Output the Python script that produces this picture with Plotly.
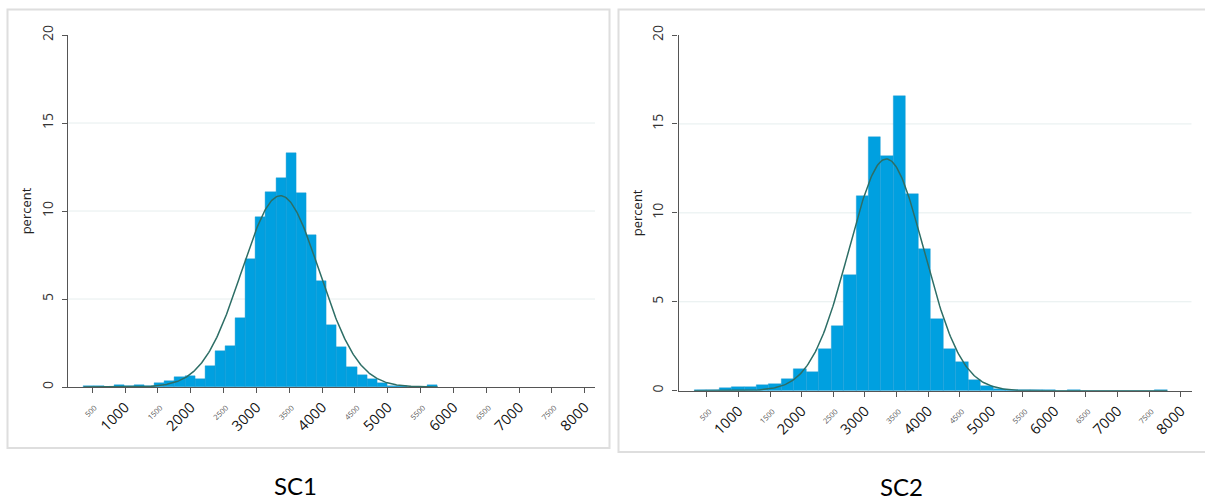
import numpy as np
import plotly.graph_objects as go

# ---------------- data ----------------
# SC1 histogram (percent per bin)
sc1_bin_start = 370
sc1_bin_width = 154
sc1_percent = [0.06, 0.06, 0.02, 0.13, 0.03, 0.13, 0.06, 0.25, 0.34, 0.59,
               0.63, 0.47, 1.19, 2.03, 2.35, 3.9, 7.3, 9.65, 11.1, 11.85,
               13.27, 11.05, 8.65, 6.05, 3.5, 2.25, 1.15, 0.7, 0.45, 0.2,
               0.08, 0.03, 0.02, 0.0, 0.1]
sc1_mean, sc1_sd, sc1_peak = 3365, 590, 10.87

# SC2 histogram (percent per bin)
sc2_bin_start = 300
sc2_bin_width = 197
sc2_percent = [0.04, 0.04, 0.13, 0.2, 0.2, 0.3, 0.36, 0.67, 1.2, 1.07,
               2.37, 3.64, 6.49, 10.95, 14.26, 13.2, 16.59, 11.06, 7.97, 4.01,
               2.34, 1.62, 0.6, 0.27, 0.09, 0.06, 0.03, 0.03, 0.03, 0.0,
               0.05, 0.0, 0.0, 0.0, 0.0, 0.0, 0.0, 0.05]
sc2_mean, sc2_sd, sc2_peak = 3340, 595, 13.03

x_tick_values = list(range(500, 8001, 500))
x_major_labels = ["1000", "2000", "3000", "4000", "5000", "6000", "7000", "8000"]
y_tick_values = [0, 5, 10, 15, 20]
grid_values = [5, 10, 15]
panel_titles = ["SC1", "SC2"]
y_title = "percent"

# ---------------- styling ----------------
BAR = "#00a0e0"
CURVE = "#2d6e66"
AXIS = "#555555"
W, H = 1205, 501


def tick_text(v):
    s = str(v)
    if s in x_major_labels:
        return s
    return '<span style="font-size:7.5px;fill:#555">%s</span>' % s


fig = go.Figure()


def add_panel(idx, start, width, pct, mean, sd, peak):
    xa = "x" if idx == 1 else "x2"
    ya = "y" if idx == 1 else "y2"
    n = len(pct)
    centers = start + width * (np.arange(n) + 0.5)
    fig.add_trace(go.Bar(x=centers, y=pct, width=width,
                         marker=dict(color=BAR, line=dict(width=0.4, color="#1c9ad2")),
                         xaxis=xa, yaxis=ya, hoverinfo="skip"))
    cx = np.linspace(start, start + width * n, 400)
    cy = peak * np.exp(-0.5 * ((cx - mean) / sd) ** 2)
    fig.add_trace(go.Scatter(x=cx, y=cy, mode="lines",
                             line=dict(color=CURVE, width=1.5),
                             xaxis=xa, yaxis=ya, hoverinfo="skip"))


add_panel(1, sc1_bin_start, sc1_bin_width, sc1_percent, sc1_mean, sc1_sd, sc1_peak)
add_panel(2, sc2_bin_start, sc2_bin_width, sc2_percent, sc2_mean, sc2_sd, sc2_peak)

xaxis_common = dict(
    tickvals=x_tick_values,
    ticktext=[tick_text(v) for v in x_tick_values],
    tickangle=-45,
    tickfont=dict(family="Open Sans", size=14.5, color="#111"),
    showline=True, linecolor=AXIS, linewidth=1.3,
    ticks="outside", ticklen=5, tickcolor=AXIS, tickwidth=1,
    showgrid=False, zeroline=False, automargin=False,
)
yaxis_common = dict(
    range=[0, 20],
    tickvals=y_tick_values,
    tickangle=-90,
    tickfont=dict(family="Open Sans", size=14, color="#333"),
    showline=True, linecolor=AXIS, linewidth=1.3,
    ticks="outside", ticklen=5, tickcolor=AXIS, tickwidth=1,
    showgrid=False, zeroline=False, automargin=False,
    ticklabelstandoff=4,
    title=dict(text=y_title, font=dict(family="Open Sans", size=13, color="#222"),
               standoff=2),
)

fig.update_layout(
    width=W, height=501,
    margin=dict(l=0, r=0, t=0, b=0),
    paper_bgcolor="white", plot_bgcolor="white",
    showlegend=False, bargap=0,
    xaxis=dict(domain=[68.3 / W, 595 / W], range=[135, 8155], anchor="y", **xaxis_common),
    yaxis=dict(domain=[(H - 387) / H, (H - 35) / H], anchor="x", **yaxis_common),
    xaxis2=dict(domain=[678.5 / W, 1191.5 / W], range=[50, 8170], anchor="y2", **xaxis_common),
    yaxis2=dict(domain=[(H - 390.7) / H, (H - 35) / H], anchor="x2", **yaxis_common),
)

shapes = []
for xr, yr in (("x", "y"), ("x2", "y2")):
    for g in grid_values:
        shapes.append(dict(type="line", xref=xr + " domain", yref=yr,
                           x0=0, x1=1, y0=g, y1=g, layer="below",
                           line=dict(color="#e6eeee", width=1)))
# panel frames
shapes.append(dict(type="rect", xref="paper", yref="paper",
                   x0=7.5 / W, x1=609.5 / W, y0=(H - 448) / H, y1=(H - 9.5) / H,
                   line=dict(color="#dedede", width=2)))
shapes.append(dict(type="rect", xref="paper", yref="paper",
                   x0=618.5 / W, x1=1210 / W, y0=(H - 452) / H, y1=(H - 9.5) / H,
                   line=dict(color="#dedede", width=2)))
fig.update_layout(shapes=shapes)

fig.add_annotation(text=panel_titles[0], xref="paper", yref="paper",
                   x=295 / W, y=(H - 485) / H, showarrow=False,
                   xanchor="center", yanchor="middle",
                   font=dict(family="Lato", size=24, color="#000"))
fig.add_annotation(text=panel_titles[1], xref="paper", yref="paper",
                   x=901 / W, y=(H - 486.5) / H, showarrow=False,
                   xanchor="center", yanchor="middle",
                   font=dict(family="Lato", size=24, color="#000"))

fig.write_html("out.html",
               config={"displayModeBar": False},
               post_script="document.body.style.margin='0';document.body.style.overflow='hidden';")
